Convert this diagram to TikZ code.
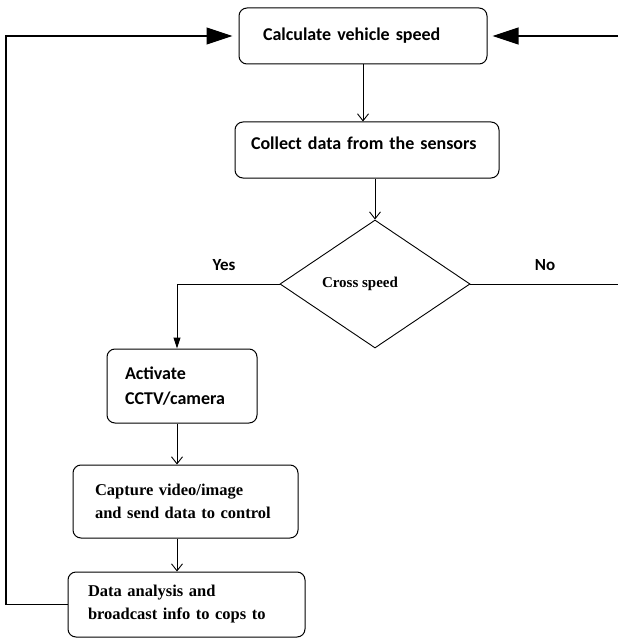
\documentclass[tikz,border=0pt]{standalone}
\usepackage{fontspec}
\setmainfont{Liberation Serif}
\newfontfamily\calfont{Carlito}
\usetikzlibrary{shapes.geometric,arrows.meta,positioning}

\tikzset{
  box/.style={draw, line width=1pt, rounded corners=8pt, align=left,
    font=\calfont\bfseries\fontsize{18}{25}\selectfont},
  serifbox/.style={box, font=\bfseries\fontsize{16.5}{23}\selectfont},
  decision/.style={draw, diamond, line width=0.9pt, minimum width=190pt,
    minimum height=128pt, inner sep=0pt, font=\bfseries\fontsize{15}{17}\selectfont},
  lbl/.style={font=\calfont\bfseries\fontsize{17}{20}\selectfont},
  flow/.style={-{Straight Barb[length=7pt,width=11pt]}, line width=0.9pt},
  yesflow/.style={-{Triangle[length=11pt,width=7pt]}, line width=1pt},
  loopback/.style={-{Triangle[length=26pt,width=17pt]}, line width=1.2pt},
}

\begin{document}
\begin{tikzpicture}[x=1pt,y=-1pt,on grid]
\useasboundingbox (0,0) rectangle (618,639);
% main column
\node[box, text width=200pt, inner xsep=24pt, minimum height=56pt] (calc) at (363,36) {Calculate vehicle speed};
\node[box, text width=232pt, inner xsep=16pt, minimum height=56pt, text depth=14pt] (collect) [below right=114pt and 4pt of calc] {Collect data from the sensors};
\node[decision] (dec) [below right=134pt and 8pt of collect] {Cross speed\hspace*{30pt}};
% yes branch
\node[box, text width=114pt, inner xsep=18pt, minimum height=74pt] (act) [below left=102pt and 193pt of dec] {Activate\\CCTV/camera};
\node[serifbox, text width=181pt, inner xsep=22pt, minimum height=73pt] (capture) [below right=115.5pt and 3.5pt of act] {Capture video/image\\and send data to control};
\node[serifbox, text width=197pt, inner xsep=20pt, minimum height=65pt] (data) [below right=103pt and 1pt of capture] {Data analysis and\\broadcast info to cops to};
\node[lbl] (yes) at (224,265) {Yes};
\node[lbl] (no) at (545,265) {No};
\coordinate[left=5pt of act.north] (actin);
\coordinate (leftrail) at (6,36);
\coordinate (rightend) at (618,36);

\draw[flow] (calc.south) -- (calc.south |- collect.north);
\draw[flow] (collect.south -| dec.north) -- (dec.north);
\draw[yesflow] (dec.west) -| (actin);
\draw[flow] (act.south -| actin) -- (actin |- capture.north);
\draw[flow] (actin |- capture.south) -- (actin |- data.north);
\draw[line width=0.9pt] (dec.east) -- (dec.east -| rightend);
% loops back to the top
\draw[loopback, shorten >=6pt] (data.west) -| (leftrail) -- (calc.west);
\draw[loopback, shorten >=5pt] (rightend) -- (calc.east);
\end{tikzpicture}
\end{document}
